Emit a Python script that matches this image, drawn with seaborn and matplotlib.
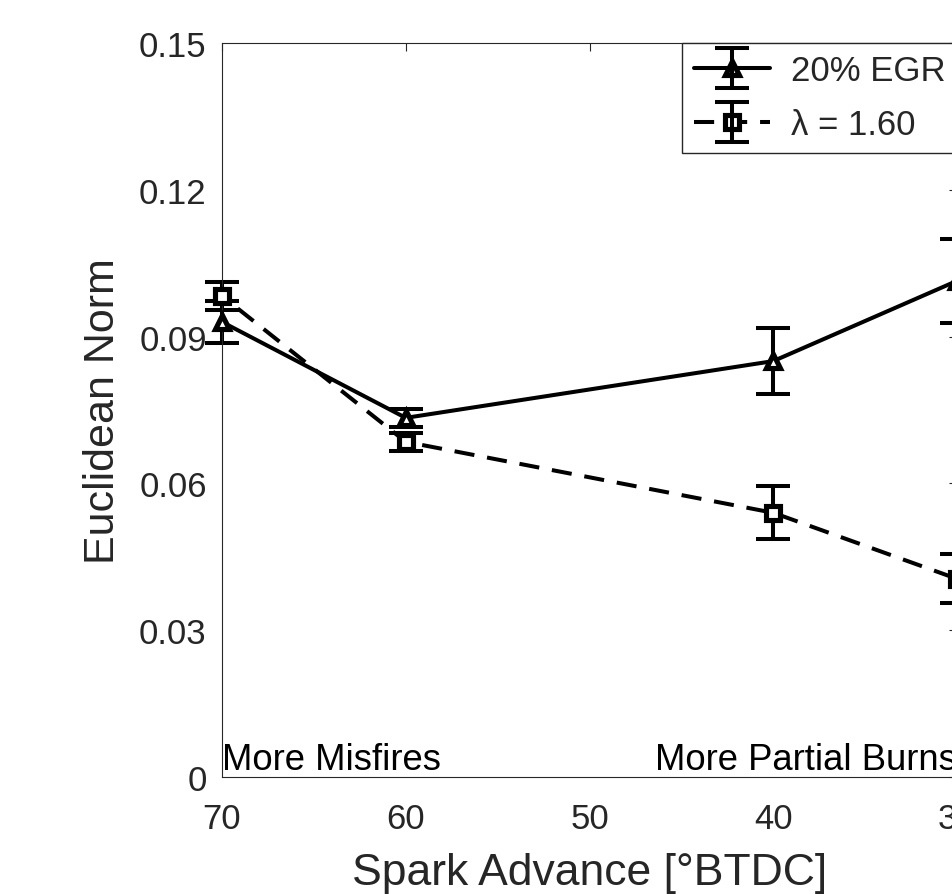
import numpy as np
import pandas as pd
import seaborn as sns
import matplotlib.pyplot as plt
from matplotlib.container import ErrorbarContainer
from matplotlib.legend_handler import HandlerErrorbar, HandlerTuple

# Data
spark_advance = [70, 60, 40, 30]
egr_norm = [0.0930, 0.0734, 0.0850, 0.1014]
egr_err = [0.0042, 0.0018, 0.0067, 0.0086]
lam_norm = [0.0983, 0.0685, 0.0540, 0.0405]
lam_err = [0.0028, 0.0018, 0.0054, 0.0050]
series_names = ["20% EGR", "λ = 1.60"]

x_ticks = [70, 60, 50, 40, 30]
x_tick_labels = ["70", "60", "50", "40", "30"]
y_ticks = [0, 0.03, 0.06, 0.09, 0.12, 0.15]
y_tick_labels = ["0", "0.03", "0.06", "0.09", "0.12", "0.15"]

df = pd.DataFrame({
    "spark": spark_advance * 2,
    "norm": egr_norm + lam_norm,
    "series": [series_names[0]] * len(spark_advance) + [series_names[1]] * len(spark_advance),
})

sns.set_theme(style="white")
plt.rcParams["font.family"] = ["Liberation Sans", "DejaVu Sans"]
gray = "#262626"

fig = plt.figure(figsize=(9.52, 8.95), dpi=100)
ax = fig.add_axes([0.2332, 0.1307, 0.7721, 0.8201])

marker_map = {series_names[0]: "^", series_names[1]: "s"}
dash_map = {series_names[0]: "", series_names[1]: (5, 3.2)}

sns.lineplot(data=df, x="spark", y="norm", style="series",
             markers=marker_map, dashes=dash_map,
             color="black", lw=2.9, markersize=10, markerfacecolor="white",
             markeredgecolor="black", markeredgewidth=3.7,
             legend=False, ax=ax, zorder=3, clip_on=False)
lines = ax.get_lines()[:2]

eb_kw = dict(fmt="none", ecolor="black", elinewidth=2.9, capsize=12, capthick=2.9,
             zorder=2, clip_on=False)
eb1 = ax.errorbar(spark_advance, egr_norm, yerr=egr_err, **eb_kw)
eb2 = ax.errorbar(spark_advance, lam_norm, yerr=lam_err, **eb_kw)
for eb in (eb1, eb2):
    for art in eb.lines[1] + eb.lines[2]:
        art.set_clip_on(False)

ax.set_xlim(70, 30)
ax.set_ylim(0, 0.15)
ax.set_xticks(x_ticks)
ax.set_xticklabels(x_tick_labels)
ax.set_yticks(y_ticks)
ax.set_yticklabels(y_tick_labels)
ax.tick_params(direction="in", length=5.5, width=0.8, colors=gray, labelsize=25,
               top=True, right=True)
ax.tick_params(axis="y", pad=11)
ax.tick_params(axis="x", pad=18)
for s in ax.spines.values():
    s.set_color(gray)
    s.set_linewidth(0.8)
    s.set_visible(True)

ax.set_xlabel("Spark Advance [°BTDC]", fontsize=32, color=gray, labelpad=12)
ax.set_ylabel("Euclidean Norm", fontsize=31, color=gray)
ax.yaxis.set_label_coords(-0.135, 0.5)

ax.text(70, 0, "More Misfires", ha="left", va="bottom", fontsize=26.3, color="black")
ax.text(30, 0, "More Partial Burns", ha="right", va="bottom", fontsize=26.3, color="black")

leg = ax.legend(handles=[(lines[0], eb1), (lines[1], eb2)], labels=series_names,
                handler_map={tuple: HandlerTuple(ndivide=1, pad=0),
                             ErrorbarContainer: HandlerErrorbar(xerr_size=0.24, yerr_size=0.58)},
                loc="upper right", bbox_to_anchor=(1, 1), borderaxespad=0,
                fontsize=25, frameon=True, fancybox=False, edgecolor=gray,
                framealpha=1, handlelength=2.2, handletextpad=0.6,
                borderpad=0.33, labelspacing=0.6, numpoints=1)
leg.get_frame().set_linewidth(1.0)

fig.savefig("out.png", dpi=100)
